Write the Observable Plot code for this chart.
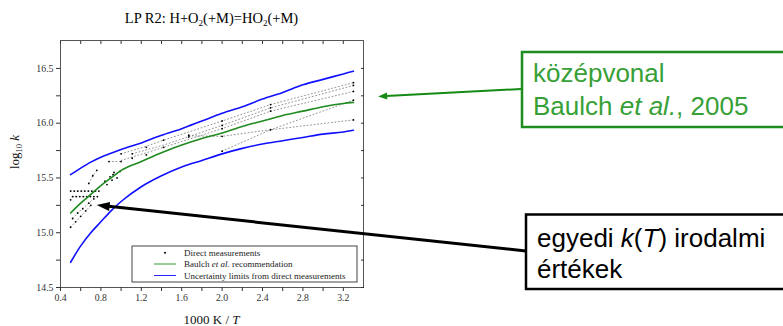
<!DOCTYPE html>
<html><head><meta charset="utf-8">
<script src="https://cdn.jsdelivr.net/npm/d3@7"></script>
<script src="https://cdn.jsdelivr.net/npm/@observablehq/plot@0.6"></script>
<style>html,body{margin:0;padding:0;background:#fff;} #chart{width:783px;height:326px;overflow:hidden}</style>
</head><body><div id="chart"></div>
<script>
// ---- data (1000 K / T  vs  log10 k) ----
const invT        = [0.5, 0.6, 0.7, 0.8, 0.9, 1.0, 1.2, 1.4, 1.6, 1.8, 2.0, 2.2, 2.4, 2.6, 2.8, 3.0, 3.2, 3.3];
const baulch      = [15.18, 15.27, 15.35, 15.43, 15.50, 15.57, 15.65, 15.73, 15.80, 15.86, 15.91, 15.97, 16.02, 16.07, 16.11, 16.15, 16.18, 16.19];
const upperLimit  = [15.53, 15.59, 15.645, 15.69, 15.725, 15.76, 15.82, 15.89, 15.95, 16.02, 16.09, 16.15, 16.22, 16.28, 16.35, 16.40, 16.45, 16.475];
const lowerLimit  = [14.73, 14.88, 15.0, 15.1, 15.2, 15.285, 15.42, 15.52, 15.60, 15.66, 15.72, 15.77, 15.81, 15.84, 15.87, 15.90, 15.92, 15.935];

// individual literature k(T) expressions (dotted)
const litNames = ["A", "B", "C", "D", "E", "F", "G", "H", "I", "J", "K"];
const litX = [
  [1.0, 1.25, 1.42, 2.0, 2.48, 3.3],
  [1.11, 1.42, 2.0, 2.48, 3.3],
  [1.0, 1.25, 2.0, 2.48, 3.3],
  [1.67, 2.0, 2.48, 3.3],
  [2.0, 2.48, 3.3],
  [0.88, 1.0],
  [0.5, 0.78],
  [0.52, 0.765],
  [0.5, 0.55, 0.6, 0.65, 0.7],
  [0.52, 0.57, 0.62, 0.68, 0.73],
  [0.68, 0.72, 0.76]
];
const litY = [
  [15.72, 15.79, 15.845, 16.02, 16.17, 16.37],
  [15.72, 15.80, 15.98, 16.14, 16.345],
  [15.66, 15.73, 15.95, 16.11, 16.29],
  [15.885, 15.88, 15.94, 16.03],
  [15.745, 15.94, 16.21],
  [15.65, 15.65],
  [15.38, 15.38],
  [15.33, 15.33],
  [15.05, 15.1, 15.15, 15.2, 15.25],
  [15.13, 15.18, 15.22, 15.27, 15.31],
  [15.45, 15.52, 15.57]
];

// direct measurements (dots)
const measX = [0.50, 0.535, 0.57, 0.605, 0.64, 0.675, 0.71, 0.745, 0.78,
               0.52, 0.555, 0.59, 0.625, 0.66, 0.695, 0.73, 0.765,
               0.5, 0.55, 0.6, 0.65, 0.7, 0.52, 0.57, 0.62, 0.68, 0.73, 0.5,
               0.84, 0.86, 0.89, 0.91, 0.92, 0.96, 0.99, 0.93, 0.68, 0.72, 0.76,
               0.88, 1.0, 1.0, 1.11, 1.11, 1.25, 1.25, 1.42, 1.42, 1.67, 1.67,
               2.0, 2.0, 2.0, 2.0, 2.0, 2.48, 2.48, 2.48, 2.48,
               3.3, 3.3, 3.3, 3.3, 3.3];
const measY = [15.38, 15.38, 15.38, 15.38, 15.38, 15.38, 15.38, 15.38, 15.38,
               15.33, 15.33, 15.33, 15.33, 15.33, 15.33, 15.33, 15.33,
               15.05, 15.1, 15.15, 15.2, 15.25, 15.13, 15.18, 15.22, 15.27, 15.31, 15.30,
               15.47, 15.44, 15.51, 15.48, 15.53, 15.50, 15.56, 15.55, 15.45, 15.52, 15.57,
               15.65, 15.65, 15.72, 15.72, 15.68, 15.78, 15.71, 15.845, 15.78, 15.875, 15.89,
               16.02, 15.98, 15.95, 15.88, 15.745, 16.17, 16.14, 16.11, 15.94,
               16.37, 16.345, 16.29, 16.21, 16.03];

// ticks
const xMajor = [0.4, 0.8, 1.2, 1.6, 2.0, 2.4, 2.8, 3.2];
const xMinor = [0.6, 1.0, 1.4, 1.8, 2.2, 2.6, 3.0];
const yMajor = [14.5, 15.0, 15.5, 16.0, 16.5];
const yMinor = [14.75, 15.25, 15.75, 16.25];

// legend / annotation texts
const legendLabels = ["Direct measurements", "Baulch et al. recommendation", "Uncertainty limits from direct measurements"];
// annotation arrow targets (data coordinates)
const greenTarget = {x: 3.55, y: 16.24};
const blackTarget = {x: 0.763, y: 15.248};

// ---- build tables ----
const curves = [];
invT.forEach((t, i) => {
  curves.push({x: t, y: baulch[i], s: "baulch"});
  curves.push({x: t, y: upperLimit[i], s: "upper"});
  curves.push({x: t, y: lowerLimit[i], s: "lower"});
});
const lit = [];
litNames.forEach((n, i) => litX[i].forEach((x, j) => lit.push({name: n, x, y: litY[i][j]})));
const meas = measX.map((x, i) => ({x, y: measY[i]}));

const GREEN = "#1f8a1f", BLUE = "#1010ff";
const allX = [...xMajor, ...xMinor], allY = [...yMajor, ...yMinor];

const chart = Plot.plot({
  width: 783, height: 326,
  marginLeft: 60, marginRight: 420, marginTop: 40, marginBottom: 39,
  x: {domain: [0.4, 3.4]},
  y: {domain: [14.5, 16.755]},
  style: {fontFamily: "'Liberation Serif', serif", fontSize: "9.8px", color: "#333", background: "#fff"},
  marks: [
    Plot.line(lit, {x: "x", y: "y", z: "name", stroke: "#666", strokeWidth: 0.7, strokeDasharray: "1,2.5"}),
    Plot.dot(meas, {x: "x", y: "y", r: 0.9, fill: "#000", stroke: null}),
    Plot.line(curves.filter(d => d.s === "baulch"), {x: "x", y: "y", stroke: GREEN, strokeWidth: 1.6, curve: "monotone-x"}),
    Plot.line(curves.filter(d => d.s !== "baulch"), {x: "x", y: "y", z: "s", stroke: BLUE, strokeWidth: 1.6, curve: "monotone-x"}),
    Plot.frame({stroke: "#555"}),
    Plot.axisX(xMajor, {anchor: "bottom", tickSize: 4, tickPadding: 3, tickFormat: d3.format(".1f"), label: null}),
    Plot.axisX(xMinor, {anchor: "bottom", tickSize: 4, tickFormat: () => "", label: null}),
    Plot.axisX(allX, {anchor: "top", tickSize: -3, tickFormat: () => "", label: null}),
    Plot.axisY(yMajor, {anchor: "left", tickSize: 4, tickPadding: 3, tickFormat: d3.format(".1f"), label: null}),
    Plot.axisY(yMinor, {anchor: "left", tickSize: 4, tickFormat: () => "", label: null}),
    Plot.axisY(allY, {anchor: "right", tickSize: -3, tickFormat: () => "", label: null})
  ]
});
document.getElementById("chart").appendChild(chart);

const svg = d3.select(chart);
const sx = chart.scale("x"), sy = chart.scale("y");
const serif = "'Liberation Serif', serif", sans = "'Liberation Sans', Arial, sans-serif";

// title
const title = svg.append("text").attr("x", 211.5).attr("y", 22.5).attr("text-anchor", "middle")
  .attr("font-family", serif).attr("font-size", 14.5).attr("font-weight", 500).attr("fill", "#000");
title.append("tspan").text("LP R2: H+O");
title.append("tspan").attr("font-size", 9).attr("dy", 3).text("2");
title.append("tspan").attr("dy", -3).text("(+M)=HO");
title.append("tspan").attr("font-size", 9).attr("dy", 3).text("2");
title.append("tspan").attr("dy", -3).text("(+M)");

// y label
const yl = svg.append("text").attr("transform", "translate(19,152) rotate(-90)").attr("text-anchor", "middle")
  .attr("font-family", serif).attr("font-size", 13).attr("fill", "#111");
yl.append("tspan").text("log");
yl.append("tspan").attr("font-size", 8.5).attr("dy", 3).text("10");
yl.append("tspan").attr("dy", -3).text(" ");
yl.append("tspan").attr("font-style", "italic").text("k");

// x label
const xl = svg.append("text").attr("x", 211.5).attr("y", 324).attr("text-anchor", "middle")
  .attr("font-family", serif).attr("font-size", 13).attr("fill", "#111");
xl.append("tspan").text("1000 K / ");
xl.append("tspan").attr("font-style", "italic").text("T");

// legend
const lg = svg.append("g").attr("font-family", serif).attr("font-size", 9).attr("fill", "#222").attr("text-anchor", "start");
lg.append("rect").attr("x", 132).attr("y", 246).attr("width", 225).attr("height", 36)
  .attr("fill", "#fff").attr("stroke", "#444").attr("stroke-width", 1);
const rowsY = [252.7, 264, 275.5];
lg.append("circle").attr("cx", 165).attr("cy", rowsY[0]).attr("r", 1).attr("fill", "#000");
lg.append("line").attr("x1", 154).attr("x2", 176).attr("y1", rowsY[1]).attr("y2", rowsY[1]).attr("stroke", GREEN).attr("stroke-width", 0.9);
lg.append("line").attr("x1", 154).attr("x2", 176).attr("y1", rowsY[2]).attr("y2", rowsY[2]).attr("stroke", BLUE).attr("stroke-width", 0.9);
lg.append("text").attr("x", 184).attr("y", rowsY[0] + 3).text(legendLabels[0]);
const l2 = lg.append("text").attr("x", 184).attr("y", rowsY[1] + 3);
l2.append("tspan").text("Baulch ");
l2.append("tspan").attr("font-style", "italic").text("et al.");
l2.append("tspan").text(" recommendation");
lg.append("text").attr("x", 184).attr("y", rowsY[2] + 3).text(legendLabels[2]);

// arrows
function arrow(x1, y1, x2, y2, color, w, headL, headW) {
  const dx = x2 - x1, dy = y2 - y1, L = Math.hypot(dx, dy), ux = dx / L, uy = dy / L;
  const bx = x2 - ux * headL, by = y2 - uy * headL;
  svg.append("line").attr("x1", x1).attr("y1", y1).attr("x2", bx + ux).attr("y2", by + uy)
    .attr("stroke", color).attr("stroke-width", w);
  svg.append("polygon").attr("points",
    `${x2},${y2} ${bx - uy * headW / 2},${by + ux * headW / 2} ${bx + uy * headW / 2},${by - ux * headW / 2}`)
    .attr("fill", color);
}

const ann = svg.append("g").attr("font-family", sans).attr("font-size", 26).attr("text-anchor", "start");
// green annotation
ann.append("rect").attr("x", 522).attr("y", 52).attr("width", 280).attr("height", 75)
  .attr("fill", "#fff").attr("stroke", "#1e8c1e").attr("stroke-width", 2.5);
ann.append("text").attr("fill", "#37a037").attr("x", 533).attr("y", 81.5).text("középvonal");
const g2 = ann.append("text").attr("fill", "#37a037").attr("x", 533).attr("y", 115);
g2.append("tspan").text("Baulch ");
g2.append("tspan").attr("font-style", "italic").text("et al.");
g2.append("tspan").text(", 2005");
arrow(521, 89, sx.apply(greenTarget.x), sy.apply(greenTarget.y), "#158a15", 2, 9, 7);

// black annotation
ann.append("rect").attr("x", 526).attr("y", 214.5).attr("width", 280).attr("height", 74.5)
  .attr("fill", "#fff").attr("stroke", "#000").attr("stroke-width", 2.5);
const b1 = ann.append("text").attr("fill", "#000").attr("x", 537).attr("y", 247);
b1.append("tspan").text("egyedi ");
b1.append("tspan").attr("font-style", "italic").text("k");
b1.append("tspan").text("(");
b1.append("tspan").attr("font-style", "italic").text("T");
b1.append("tspan").text(") irodalmi");
ann.append("text").attr("fill", "#000").attr("x", 537).attr("y", 278).text("értékek");
arrow(526, 251, sx.apply(blackTarget.x), sy.apply(blackTarget.y), "#000", 3, 13, 9);
</script>
</body></html>
